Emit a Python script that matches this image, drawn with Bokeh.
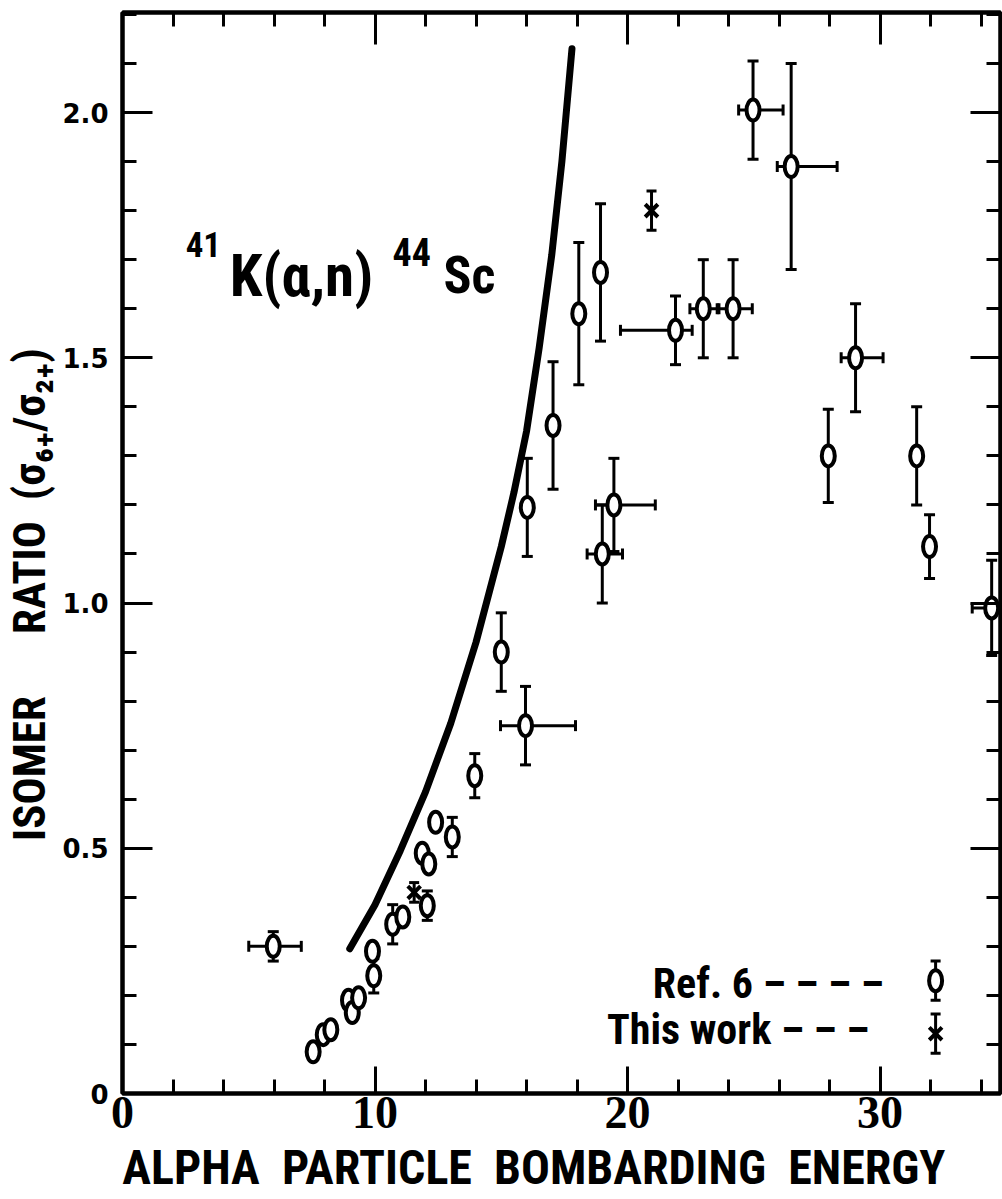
from bokeh.plotting import figure
from bokeh.models import (LinearAxis, FixedTicker, Whisker, TeeHead, ColumnDataSource,
                          Range1d, CustomJSTickFormatter)
from bokeh.embed import file_html
from bokeh.resources import INLINE
from bokeh.core.properties import value

# ---------------- data ----------------
# Ref. 6 points: energy (MeV), isomer ratio, vertical error (+/-), horizontal error limits
ref_x    = [5.97, 7.55, 7.95, 8.25, 8.95, 9.10, 9.35, 9.90, 9.95, 10.70, 11.10, 12.07,
            11.87, 12.13, 12.40, 13.06, 13.95, 15.00, 15.96, 16.03, 17.05, 18.07, 18.93,
            19.00, 19.46, 21.90, 23.00, 24.18, 24.97, 26.48, 27.95, 29.03, 31.45, 31.96, 34.42]
ref_y    = [0.300, 0.085, 0.120, 0.130, 0.190, 0.165, 0.195, 0.290, 0.240, 0.345, 0.360, 0.383,
            0.490, 0.468, 0.553, 0.523, 0.648, 0.900, 0.750, 1.195, 1.362, 1.590, 1.674,
            1.100, 1.200, 1.556, 1.600, 1.600, 2.005, 1.890, 1.300, 1.500, 1.300, 1.115, 0.990]
ref_yerr = [0.030, 0, 0, 0, 0, 0, 0, 0, 0.035, 0.040, 0, 0.030,
            0, 0, 0, 0.040, 0.045, 0.080, 0.080, 0.100, 0.130, 0.145, 0.140,
            0.100, 0.095, 0.070, 0.100, 0.100, 0.100, 0.210, 0.095, 0.110, 0.100, 0.065, 0.097]
ref_xlo  = [5.00, None, None, None, None, None, None, None, None, None, None, None,
            None, None, None, None, None, None, 14.97, None, None, None, None,
            18.40, 18.73, 19.72, 22.47, 23.55, 24.40, 25.93, None, 28.46, None, None, 33.65]
ref_xhi  = [7.08, None, None, None, None, None, None, None, None, None, None, None,
            None, None, None, None, None, None, 17.94, None, None, None, None,
            19.80, 21.10, 22.56, 23.62, 24.94, 26.16, 28.30, None, 30.12, None, None, 35.60]

# This work
work_x    = [11.55, 20.95]
work_y    = [0.410, 1.800]
work_yerr = [0.020, 0.040]

# theoretical curve
curve_x = [9.0, 10.0, 11.0, 12.0, 13.0, 14.0, 15.0, 15.5, 16.0, 16.5, 17.0, 17.4, 17.8]
curve_y = [0.295, 0.385, 0.495, 0.615, 0.755, 0.920, 1.115, 1.225, 1.350, 1.520, 1.710, 1.900, 2.130]

# axes
x_major = [0, 10, 20, 30]
x_minor = [2, 4, 6, 8, 12, 14, 16, 18, 22, 24, 26, 28, 32, 34]
y_major = [0.0, 0.5, 1.0, 1.5, 2.0]
y_minor = [0.1, 0.2, 0.3, 0.4, 0.6, 0.7, 0.8, 0.9, 1.1, 1.2, 1.3, 1.4,
           1.6, 1.7, 1.8, 1.9, 2.1, 2.2]

# legend key positions
legend_x = 32.2
legend_ref_y = 0.230
legend_work_y = 0.122

NARROW = ("'Roboto Condensed', 'Liberation Sans Narrow', 'DejaVu Sans Condensed', "
          "'Noto Sans Condensed', 'Open Sans Condensed', Roboto, sans-serif")
SERIF = "Liberation Serif"
WIDE = "DejaVu Sans"
NB = "\u00a0"

# ---------------- figure ----------------
p = figure(width=1002, height=1199, x_range=Range1d(0, 34.77), y_range=Range1d(0, 2.204),
           output_backend="svg", toolbar_location=None,
           min_border_left=122, min_border_right=2, min_border_top=12, min_border_bottom=106)
p.grid.visible = False
p.background_fill_color = "white"
p.border_fill_color = "white"
p.outline_line_color = "black"
p.outline_line_width = 4


def style_axis(ax, major, minor, tin, labels=True):
    ax.ticker = FixedTicker(ticks=major, minor_ticks=minor)
    ax.axis_line_width = 4
    ax.axis_line_color = "black"
    ax.major_tick_in = tin
    ax.major_tick_out = 0
    ax.minor_tick_in = 14
    ax.minor_tick_out = 0
    ax.major_tick_line_width = 3
    ax.minor_tick_line_width = 3
    ax.major_tick_line_color = "black"
    ax.minor_tick_line_color = "black"
    if not labels:
        ax.formatter = CustomJSTickFormatter(code="return ''")
        ax.major_label_standoff = 0
        ax.major_label_text_font_size = "0px"
        ax.axis_label_standoff = 0


xa = p.xaxis[0]
style_axis(xa, x_major, x_minor, 27)
xa.major_label_text_font = SERIF
xa.major_label_text_font_style = "bold"
xa.major_label_text_font_size = "46px"
xa.major_label_text_color = "black"
xa.major_label_standoff = 3
xa.axis_label = ("ALPHA" + NB + " PARTICLE" + NB + " BOMBARDING" + NB + " ENERGY" + NB * 5)
xa.axis_label_text_font = NARROW
xa.axis_label_text_font_style = "bold"
xa.axis_label_text_font_size = "48px"
xa.axis_label_text_color = "black"
xa.axis_label_standoff = 8

ya = p.yaxis[0]
style_axis(ya, y_major, y_minor, 30)
ya.formatter = CustomJSTickFormatter(code="return tick == 0 ? '0' : tick.toFixed(1)")
ya.major_label_text_font = WIDE
ya.major_label_text_font_style = "bold"
ya.major_label_text_font_size = "26px"
ya.major_label_text_color = "black"
ya.major_label_standoff = 14
ya.axis_label = ("ISOMER" + NB * 6 + "RATIO" + NB * 2 + "(\u03c3\u2086\u208a/\u03c3\u2082\u208a)" + NB * 8)
ya.axis_label_text_font = NARROW
ya.axis_label_text_font_style = "bold"
ya.axis_label_text_font_size = "45px"
ya.axis_label_text_color = "black"
ya.axis_label_standoff = 3

top = LinearAxis()
style_axis(top, x_major, x_minor, 32, labels=False)
p.add_layout(top, "above")
right = LinearAxis()
style_axis(right, y_major, y_minor, 30, labels=False)
p.add_layout(right, "right")

# ---------------- curve ----------------
p.line(curve_x, curve_y, line_width=7, line_color="black", line_cap="round", line_join="round")

# ---------------- Ref. 6 points ----------------
ys = ColumnDataSource(dict(
    x=[x for x, e in zip(ref_x, ref_yerr) if e > 0],
    lo=[y - e for y, e in zip(ref_y, ref_yerr) if e > 0],
    hi=[y + e for y, e in zip(ref_y, ref_yerr) if e > 0]))
p.add_layout(Whisker(source=ys, base="x", lower="lo", upper="hi", dimension="height",
                     line_width=3, line_color="black", level="underlay",
                     lower_head=TeeHead(size=11, line_width=3, line_color="black"),
                     upper_head=TeeHead(size=11, line_width=3, line_color="black")))
xs = ColumnDataSource(dict(
    y=[y for y, lo in zip(ref_y, ref_xlo) if lo is not None],
    lo=[lo for lo in ref_xlo if lo is not None],
    hi=[hi for hi in ref_xhi if hi is not None]))
p.add_layout(Whisker(source=xs, base="y", lower="lo", upper="hi", dimension="width",
                     line_width=3, line_color="black", level="underlay",
                     lower_head=TeeHead(size=11, line_width=3, line_color="black"),
                     upper_head=TeeHead(size=11, line_width=3, line_color="black")))
p.ellipse(x=ref_x, y=ref_y, width=13, height=21, width_units="screen", height_units="screen",
          fill_color="white", line_color="black", line_width=4)

# ---------------- This work ----------------
ws = ColumnDataSource(dict(x=work_x,
                           lo=[y - e for y, e in zip(work_y, work_yerr)],
                           hi=[y + e for y, e in zip(work_y, work_yerr)]))
p.add_layout(Whisker(source=ws, base="x", lower="lo", upper="hi", dimension="height",
                     line_width=3, line_color="black", level="underlay",
                     lower_head=TeeHead(size=10, line_width=3, line_color="black"),
                     upper_head=TeeHead(size=10, line_width=3, line_color="black")))
p.scatter(x=work_x, y=work_y, marker="x", size=18, line_width=4, line_color="black")

# ---------------- reaction label ----------------
TXT = dict(text_font=value(NARROW), text_font_style="bold", text_color="black",
           text_baseline="middle")
p.text(x=[2.5], y=[1.730], text=["41"], text_font_size="35px", **TXT)
p.text(x=[4.25], y=[1.668], text=["K(\u03b1,n)"], text_font_size="59px", **TXT)
p.text(x=[10.69], y=[1.716], text=["44"], text_font_size="38px", **TXT)
p.text(x=[12.71], y=[1.668], text=["Sc"], text_font_size="52px", **TXT)

# ---------------- legend ----------------
p.text(x=[30.53], y=[0.224], text=["Ref. 6  \u2013 \u2013 \u2013 \u2013"], text_font_size="42px",
       text_align="right", **TXT)
p.text(x=[30.34], y=[0.130], text=["This  work  \u2013 \u2013 \u2013"], text_font_size="42px",
       text_align="right", **TXT)
ls = ColumnDataSource(dict(x=[legend_x, legend_x],
                           lo=[legend_ref_y - 0.04, legend_work_y - 0.04],
                           hi=[legend_ref_y + 0.04, legend_work_y + 0.04]))
p.add_layout(Whisker(source=ls, base="x", lower="lo", upper="hi", dimension="height",
                     line_width=3, line_color="black", level="underlay",
                     lower_head=TeeHead(size=10, line_width=3, line_color="black"),
                     upper_head=TeeHead(size=10, line_width=3, line_color="black")))
p.ellipse(x=[legend_x], y=[legend_ref_y], width=13, height=21, width_units="screen",
          height_units="screen", fill_color="white", line_color="black", line_width=4)
p.scatter(x=[legend_x], y=[legend_work_y], marker="x", size=18, line_width=4, line_color="black")

open("out.html", "w").write(file_html(p, INLINE))
